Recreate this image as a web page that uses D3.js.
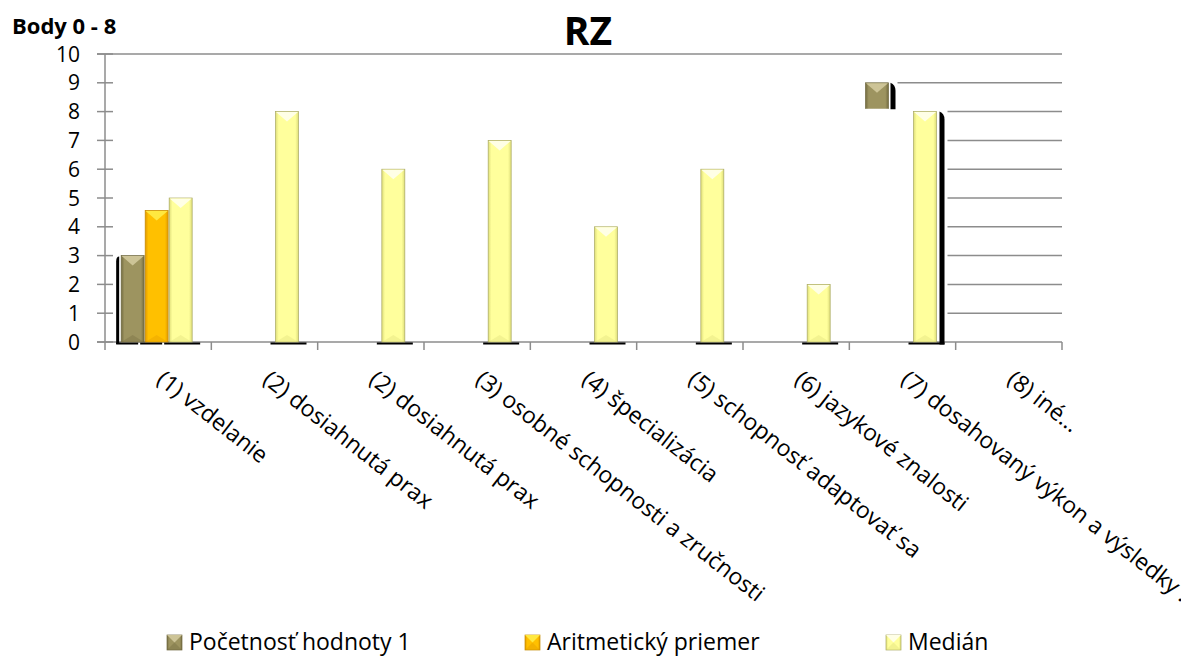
<!DOCTYPE html>
<html>
<head>
<meta charset="utf-8">
<script src="https://cdn.jsdelivr.net/npm/d3@7"></script>
<style>
  html, body { margin: 0; padding: 0; background: #fff; }
  svg { display: block; }
  text { font-family: "Open Sans", "Noto Sans", sans-serif; fill: #000; }
</style>
</head>
<body>
<svg id="chart" width="1181" height="660"></svg>
<script>
// ---- data ----
const categories = [
  "(1) vzdelanie",
  "(2) dosiahnutá prax",
  "(2) dosiahnutá prax",
  "(3) osobné schopnosti a zručnosti",
  "(4) špecializácia",
  "(5) schopnosť adaptovať sa",
  "(6) jazykové znalosti",
  "(7) dosahovaný výkon a výsledky …",
  "(8) iné…"
];
const seriesNames = ["Početnosť hodnoty 1", "Aritmetický priemer", "Medián"];
const pocetnost = [3, 0, 0, 0, 0, 0, 0, 9, 0];
const priemer   = [4.57, 0, 0, 0, 0, 0, 0, 0, 0];
const median    = [5, 8, 6, 7, 4, 6, 2, 8, 0];
const yTicks    = [0, 1, 2, 3, 4, 5, 6, 7, 8, 9, 10];
const title = "RZ";
const yTitle = "Body 0 - 8";
// the Početnosť bar of category (7) is only exposed above this level
const exposedAbove = 8.1;

const seriesValues = [pocetnost, priemer, median];
const palette = [
  { body: "#9d9460", dark: "#736b40", light: "#cdc497", edge: "#6f6840" },
  { body: "#ffc000", dark: "#e29a00", light: "#ffe840", edge: "#c48a00" },
  { body: "#ffff9c", dark: "#dede7a", light: "#ffffe6", edge: "#a9a862" }
];

const svg = d3.select("#chart");
const plotL = 105, plotR = 1062, plotT = 54, plotB = 342;

const x0 = d3.scaleBand().domain(d3.range(categories.length)).range([plotL, plotR]).padding(0);
const x1 = d3.scaleBand().domain(d3.range(seriesNames.length)).range([-37, 34]).paddingInner(1 / 24);
const y = d3.scaleLinear().domain([0, 10]).range([plotB, plotT]);
const cx = i => x0(i) + x0.bandwidth() / 2;
const bw = x1.bandwidth();

// gradients for the bevelled bar bodies
const defs = svg.append("defs");
palette.forEach((p, k) => {
  const g = defs.append("linearGradient").attr("id", "grad" + k)
    .attr("x1", "0%").attr("x2", "100%").attr("y1", "0%").attr("y2", "0%");
  g.append("stop").attr("offset", "0%").attr("stop-color", p.dark);
  g.append("stop").attr("offset", "14%").attr("stop-color", p.body);
  g.append("stop").attr("offset", "86%").attr("stop-color", p.body);
  g.append("stop").attr("offset", "100%").attr("stop-color", p.dark);
});

// clip for the Početnosť series: category (7) is hidden below exposedAbove
const occ = 7;
const clip = defs.append("clipPath").attr("id", "clipPoc");
clip.append("rect").attr("x", 0).attr("y", 0).attr("width", 1181).attr("height", y(exposedAbove));
clip.append("rect").attr("x", 0).attr("y", 0).attr("width", x0(occ)).attr("height", 660);
clip.append("rect").attr("x", x0(occ) + x0.bandwidth()).attr("y", 0).attr("width", 400).attr("height", 660);

// ---- gridlines ----
const grid = svg.append("g");
const oliveEnd = cx(occ) + x1(0) + bw;
const medianEnd = cx(occ) + x1(2) + bw;
yTicks.filter(t => t > 0).forEach(t => {
  let xs = plotL - 8;
  if (t < 10) xs = t >= 9 ? oliveEnd + 9 : medianEnd + 11;
  grid.append("line")
    .attr("x1", xs).attr("x2", plotR)
    .attr("y1", y(t)).attr("y2", y(t))
    .attr("stroke", "#8c8c8c").attr("stroke-width", 1.5);
});

// ---- axes ----
const axisG = svg.append("g").attr("stroke", "#8c8c8c").attr("stroke-width", 1.5);
axisG.append("line").attr("x1", plotL).attr("x2", plotL).attr("y1", y(10)).attr("y2", plotB + 8);
axisG.append("line").attr("x1", plotL - 8).attr("x2", plotR).attr("y1", plotB).attr("y2", plotB);
yTicks.forEach(t => {
  axisG.append("line").attr("x1", plotL - 8).attr("x2", plotL + 8).attr("y1", y(t)).attr("y2", y(t));
});
categories.forEach((c, i) => {
  const xb = x0(i) + x0.bandwidth();
  axisG.append("line").attr("x1", xb).attr("x2", xb).attr("y1", plotB).attr("y2", plotB + 8);
});

svg.append("g").selectAll("text").data(yTicks).join("text")
  .attr("x", 80).attr("y", d => y(d)).attr("dy", "0.36em")
  .attr("text-anchor", "end").style("font-size", "21px")
  .text(d => d);

// ---- bars ----
function bar(g, x, w, v, k) {
  const p = palette[k];
  const yt = y(v), yb = y(0);
  const bv = Math.min(10, (yb - yt) / 2);
  g.append("rect").attr("x", x).attr("y", yt).attr("width", w).attr("height", yb - yt)
    .attr("fill", `url(#grad${k})`).attr("stroke", p.edge).attr("stroke-width", 0.7);
  g.append("path")
    .attr("d", `M${x + 0.5},${yt + 0.5}L${x + w - 0.5},${yt + 0.5}L${x + w / 2},${yt + bv}Z`)
    .attr("fill", p.light);
  g.append("path")
    .attr("d", `M${x + 1},${yb - 0.5}L${x + w - 1},${yb - 0.5}L${x + w / 2},${yb - bv * 0.7}Z`)
    .attr("fill", p.dark).attr("opacity", 0.35);
}

const shadowG = svg.append("g");
const barsG = svg.append("g");
seriesValues.forEach((vals, k) => {
  const g = barsG.append("g");
  if (k === 0) g.attr("clip-path", "url(#clipPoc)");
  vals.forEach((v, i) => {
    if (!v) return;
    const x = cx(i) + x1(k);
    // dark base shadow under the bar
    const sx0 = x - 5, sx1 = k === 2 ? x + bw + 8 : x + bw - 6;
    if (!(k === 0 && i === occ)) {
      shadowG.append("rect").attr("x", sx0).attr("y", plotB + 0.5)
        .attr("width", sx1 - sx0).attr("height", 2).attr("fill", "#000");
    }
    bar(g, x, bw, v, k);
  });
});

// dark side shadows
{
  const i0 = 0, xo = cx(i0) + x1(0);
  shadowG.append("path")
    .attr("d", `M${xo - 5},${plotB + 2}L${xo - 5},${y(pocetnost[i0]) + 6}Q${xo - 5},${y(pocetnost[i0]) + 1} ${xo - 2},${y(pocetnost[i0]) + 1}L${xo - 2},${plotB + 2}Z`)
    .attr("fill", "#000");
  const xm = cx(occ) + x1(2) + bw;
  shadowG.append("path")
    .attr("d", `M${xm + 3},${y(median[occ])}Q${xm + 8},${y(median[occ]) + 2} ${xm + 8},${y(median[occ]) + 8}L${xm + 8},${plotB + 2.5}L${xm + 3},${plotB + 2.5}Z`)
    .attr("fill", "#000");
  const xp = cx(occ) + x1(0) + bw;
  shadowG.append("path")
    .attr("d", `M${xp + 2},${y(pocetnost[occ])}Q${xp + 7},${y(pocetnost[occ]) + 2} ${xp + 7},${y(pocetnost[occ]) + 8}L${xp + 7},${y(exposedAbove) + 0.5}L${xp + 2},${y(exposedAbove) + 0.5}Z`)
    .attr("fill", "#000");
}

// ---- category labels ----
svg.append("g").selectAll("text").data(categories).join("text")
  .attr("transform", (d, i) => `translate(${cx(i) - 3},${382}) rotate(38)`)
  .attr("text-anchor", "start").style("font-size", "23px")
  .text(d => d);

// ---- titles ----
svg.append("text").attr("x", 588).attr("y", 45).attr("text-anchor", "middle")
  .style("font-size", "39px").style("font-weight", "700").text(title);
svg.append("text").attr("x", 12).attr("y", 34)
  .style("font-size", "22px").style("font-weight", "700").text(yTitle);

// ---- legend ----
const legendTextX = [189, 547, 908];
const legend = svg.append("g");
seriesNames.forEach((n, k) => {
  const p = palette[k];
  const s = 15, lx = legendTextX[k] - 22, ly = 635;
  legend.append("rect").attr("x", lx).attr("y", ly).attr("width", s).attr("height", s)
    .attr("fill", `url(#grad${k})`).attr("stroke", p.edge).attr("stroke-width", 0.7);
  legend.append("path").attr("d", `M${lx},${ly}L${lx + s},${ly}L${lx + s / 2},${ly + s / 2}Z`).attr("fill", p.light);
  legend.append("path").attr("d", `M${lx},${ly + s}L${lx + s},${ly + s}L${lx + s / 2},${ly + s / 2}Z`).attr("fill", p.dark).attr("opacity", 0.4);
  legend.append("text").attr("x", legendTextX[k]).attr("y", 650)
    .style("font-size", "23px").text(n);
});
</script>
</body>
</html>
